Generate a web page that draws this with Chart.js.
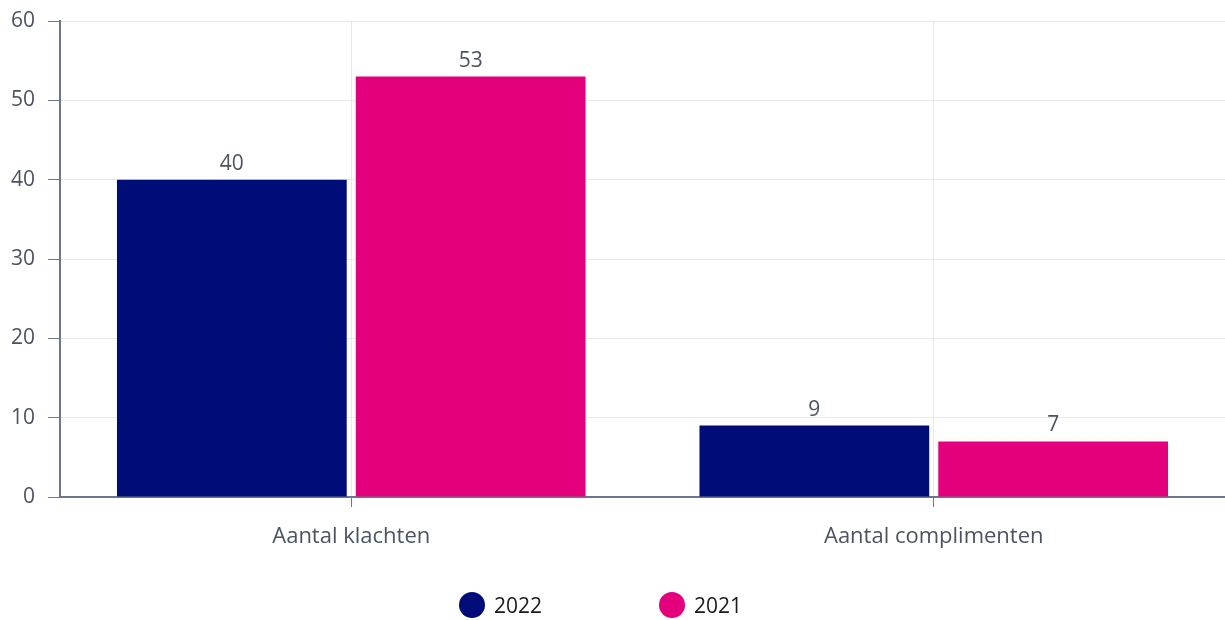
<!DOCTYPE html>
<html>
<head>
<meta charset="utf-8">
<script src="https://cdn.jsdelivr.net/npm/chart.js@4"></script>
<style>
  body { margin: 0; background: #fff; }
  #wrap { position: relative; width: 1225px; height: 620px; }
  .legend-item { position: absolute; top: 591px; display: flex; align-items: center;
    font-family: "Open Sans", sans-serif; font-size: 21px; color: #1a1a1a; }
  .legend-dot { width: 26px; height: 26px; border-radius: 50%; margin-right: 9px; }
</style>
</head>
<body>
<div id="wrap">
  <canvas id="chart" width="1225" height="620"></canvas>
</div>
<script>
// Data
const categories = ["Aantal klachten", "Aantal complimenten"];
const seriesNames = ["2022", "2021"];
const values2022 = [40, 9];
const values2021 = [53, 7];
const seriesColors = ["#000c78", "#e4007c"];
const yMin = 0, yMax = 60, yStep = 10;

const axisColor = "#6b778a";
const gridColor = "#e7e9ef";
const labelColor = "#4b5363";
const numFont = { family: "'Open Sans', sans-serif", size: 21 };
const catFont = { family: "'Open Sans', sans-serif", size: 22 };

// Value labels above bars
const valueLabels = {
  id: "valueLabels",
  afterDatasetsDraw(chart) {
    const ctx = chart.ctx;
    ctx.save();
    ctx.font = "21px 'Open Sans', sans-serif";
    ctx.fillStyle = labelColor;
    ctx.textAlign = "center";
    ctx.textBaseline = "alphabetic";
    chart.data.datasets.forEach((ds, i) => {
      chart.getDatasetMeta(i).data.forEach((bar, j) => {
        ctx.fillText(ds.data[j], bar.x, bar.y - 10);
      });
    });
    ctx.restore();
  }
};

const ctx = document.getElementById("chart").getContext("2d");
new Chart(ctx, {
  type: "bar",
  data: {
    labels: categories,
    datasets: [
      { label: seriesNames[0], data: values2022, backgroundColor: seriesColors[0] },
      { label: seriesNames[1], data: values2021, backgroundColor: seriesColors[1] }
    ]
  },
  options: {
    responsive: false,
    animation: false,
    devicePixelRatio: 1,
    layout: { padding: { top: 21, left: 0, right: 0, bottom: 0 } },
    datasets: { bar: { categoryPercentage: 0.82, barPercentage: 0.962 } },
    plugins: {
      legend: { display: false },
      tooltip: { enabled: false }
    },
    scales: {
      x: {
        grid: { offset: false, color: gridColor, tickColor: axisColor, tickLength: 10 },
        border: { color: axisColor, width: 2 },
        ticks: { font: catFont, color: labelColor, padding: 17 },
        afterFit: (s) => { s.height = 123; }
      },
      y: {
        min: yMin,
        max: yMax,
        ticks: { stepSize: yStep, font: numFont, color: labelColor, padding: 13 },
        grid: { color: gridColor, tickColor: axisColor, tickLength: 12 },
        border: { color: axisColor, width: 2 },
        afterFit: (s) => { s.width = 60; s.paddingTop = 0; s.paddingBottom = 0; }
      }
    }
  },
  plugins: [valueLabels]
});

// Legend
const wrap = document.getElementById("wrap");
seriesNames.forEach((name, i) => {
  const item = document.createElement("div");
  item.className = "legend-item";
  item.style.left = (459 + i * 200) + "px";
  item.innerHTML = `<span class="legend-dot" style="background:${seriesColors[i]}"></span><span>${name}</span>`;
  wrap.appendChild(item);
});
</script>
</body>
</html>
